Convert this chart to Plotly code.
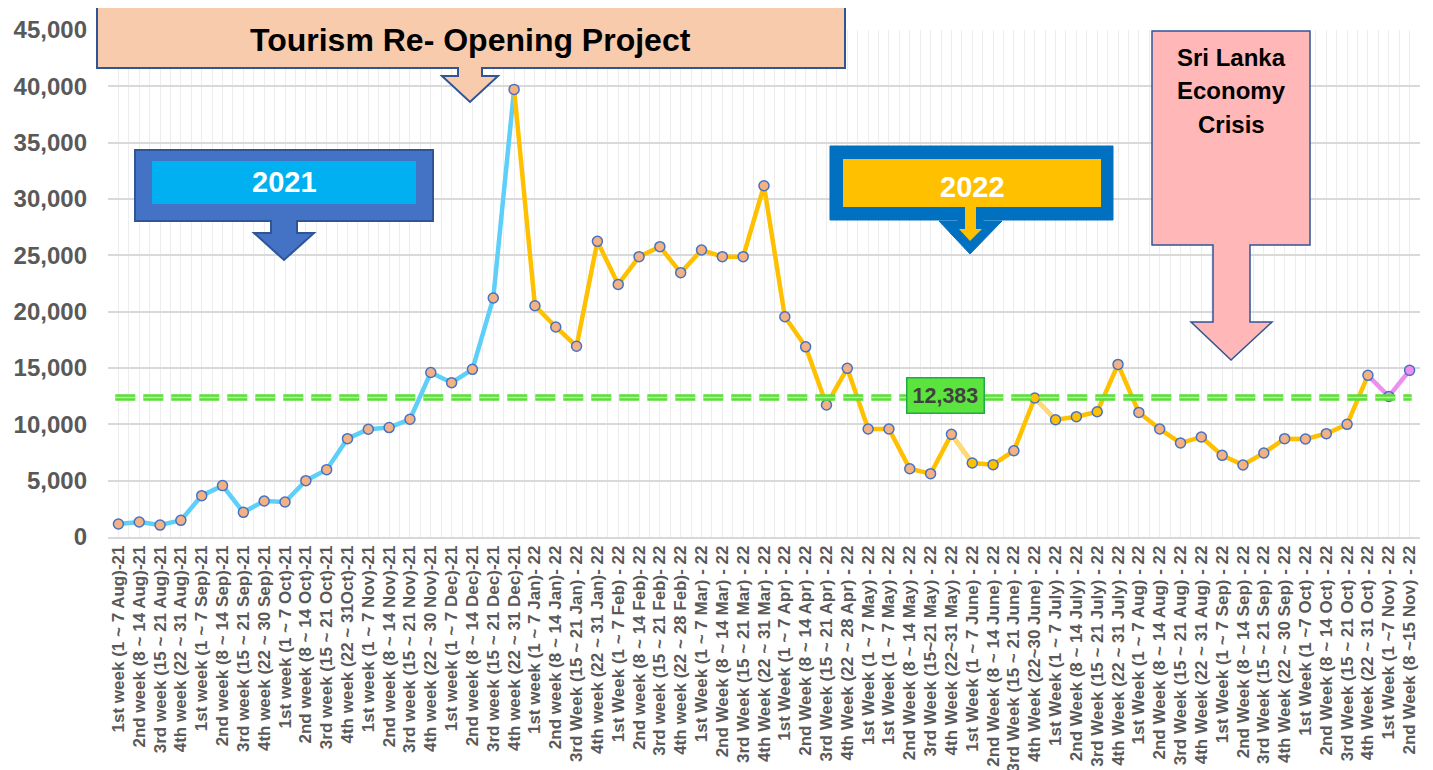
import plotly.graph_objects as go

# ---------------- data ----------------
week_labels = [
    "1st week (1 ~ 7 Aug)-21", "2nd week (8 ~ 14 Aug)-21", "3rd week (15 ~ 21 Aug)-21",
    "4th week (22 ~ 31 Aug)-21", "1st week (1 ~ 7 Sep)-21", "2nd week (8 ~ 14 Sep)-21",
    "3rd week (15 ~ 21 Sep)-21", "4th week (22 ~ 30 Sep)-21", "1st week (1 ~ 7 Oct)-21",
    "2nd week (8 ~ 14 Oct)-21", "3rd week (15 ~ 21 Oct)-21", "4th week (22 ~ 31Oct)-21",
    "1st week (1 ~ 7 Nov)-21", "2nd week (8 ~ 14 Nov)-21", "3rd week (15 ~ 21 Nov)-21",
    "4th week (22 ~ 30 Nov)-21", "1st week (1 ~ 7 Dec)-21", "2nd week (8 ~ 14 Dec)-21",
    "3rd week (15 ~ 21 Dec)-21", "4th week (22 ~ 31 Dec)-21",
    "1st week (1 ~ 7 Jan)- 22", "2nd week (8 ~ 14 Jan)- 22", "3rd Week (15 ~ 21 Jan) - 22",
    "4th week (22 ~ 31 Jan)- 22", "1st Week (1 ~ 7 Feb) - 22", "2nd week (8 ~ 14 Feb)- 22",
    "3rd week (15 ~ 21 Feb)- 22", "4th week (22 ~ 28 Feb)- 22", "1st Week (1 ~ 7 Mar) - 22",
    "2nd Week (8 ~ 14 Mar) - 22", "3rd Week (15 ~ 21 Mar) - 22", "4th Week (22 ~ 31 Mar) - 22",
    "1st Week (1 ~ 7 Apr) - 22", "2nd Week (8 ~ 14 Apr) - 22", "3rd Week (15 ~ 21 Apr) - 22",
    "4th Week (22 ~ 28 Apr) - 22", "1st Week (1 ~ 7 May) - 22", "1st Week (1 ~ 7 May) - 22",
    "2nd Week (8 ~ 14 May) - 22", "3rd Week (15~21 May) - 22", "4th Week (22~31 May) - 22",
    "1st Week (1 ~ 7 June) - 22", "2nd Week (8 ~ 14 June) - 22", "3rd Week (15 ~ 21 June) - 22",
    "4th Week (22~30 June) - 22", "1st Week (1 ~ 7 July) - 22", "2nd Week (8 ~ 14 July) - 22",
    "3rd Week (15 ~ 21 July) - 22", "4th Week (22 ~ 31 July) - 22", "1st Week (1 ~ 7 Aug) - 22",
    "2nd Week (8 ~ 14 Aug) - 22", "3rd Week (15 ~ 21 Aug) - 22", "4th Week (22 ~ 31 Aug) - 22",
    "1st Week (1 ~ 7 Sep) - 22", "2nd Week (8 ~ 14 Sep) - 22", "3rd Week (15 ~ 21 Sep) - 22",
    "4th Week (22 ~ 30 Sep) - 22", "1st Week (1 ~7 Oct) - 22", "2nd Week (8 ~ 14 Oct) - 22",
    "3rd Week (15 ~ 21 Oct) - 22", "4th Week (22 ~ 31 Oct) - 22", "1st Week (1 ~7 Nov) - 22",
    "2nd Week (8 ~15 Nov) - 22",
]

arrivals = [
    1150, 1330, 1060, 1480, 3670, 4560, 2190, 3200, 3110, 5000,
    5980, 8730, 9560, 9710, 10450, 14600, 13700, 14880, 21210, 39730,
    20530, 18640, 16930, 26240, 22420, 24880, 25770, 23460, 25470, 24880,
    24880, 31180, 19550, 16880, 11720, 14970, 9590, 9590, 6060, 5620,
    9110, 6570, 6420, 7660, 12340, 10410, 10680, 11120, 15320, 11060,
    9590, 8340, 8880, 7250, 6390, 7460, 8730, 8700, 9170, 10000,
    14350, 12480, 14790,
]

average_arrivals = 12383

# index groups (0-based) for the three line phases
idx_2021 = list(range(0, 20))
idx_2022 = list(range(19, 61))
idx_nov = list(range(60, 63))
pale_segments = [(40, 41), (44, 45)]
gold_marker_idx = {41, 42, 44, 45, 46, 47}
violet_marker_idx = {61, 62}

# ---------------- styling ----------------
BLUE_LINE = "#5ECFF9"
GOLD = "#FFC000"
PALE_GOLD = "#FFD97A"
VIOLET = "#EE8FEE"
PEACH = "#F4B183"
MARKER_EDGE = "#4472C4"
FONT = "Liberation Sans, Arial, sans-serif"

x_all = list(range(len(arrivals)))

fig = go.Figure()


def add_line(idxs, color):
    fig.add_trace(go.Scatter(
        x=[x_all[i] for i in idxs], y=[arrivals[i] for i in idxs],
        mode="lines", line=dict(color=color, width=4.5),
        hoverinfo="skip", showlegend=False))


add_line(idx_2021, BLUE_LINE)
add_line(idx_2022, GOLD)
for a, b in pale_segments:
    add_line([a, b], PALE_GOLD)
add_line(idx_nov, VIOLET)

marker_colors = []
for i in x_all:
    if i in gold_marker_idx:
        marker_colors.append(GOLD)
    elif i in violet_marker_idx:
        marker_colors.append(VIOLET)
    else:
        marker_colors.append(PEACH)

fig.add_trace(go.Scatter(
    x=x_all, y=arrivals, mode="markers",
    marker=dict(size=10, color=marker_colors, line=dict(color=MARKER_EDGE, width=1.5)),
    showlegend=False, hovertext=week_labels))

# average dashed line (bright green dash with pale centre)
fig.add_trace(go.Scatter(
    x=[x_all[0] - 0.15, x_all[-1] + 0.1], y=[average_arrivals, average_arrivals],
    mode="lines", line=dict(color="#58E034", width=6.5, dash="20px,8px"),
    hoverinfo="skip", showlegend=False))
fig.add_trace(go.Scatter(
    x=[x_all[0] - 0.15, x_all[-1] + 0.1], y=[average_arrivals, average_arrivals],
    mode="lines", line=dict(color="#BDF2A8", width=1.5, dash="20px,8px"),
    hoverinfo="skip", showlegend=False))

# ---------------- layout helpers (screen pixel -> paper) ----------------
PAGE_OFF = 8                      # default body margin of the html page
SCREEN_W, SCREEN_H = 1433, 770
W, H = SCREEN_W - PAGE_OFF, SCREEN_H - PAGE_OFF
L, R, T, B = 108, 1420, 30, 537   # plot area in screen pixels


def px(x):
    return (x - L) / (R - L)


def py(y):
    return (B - y) / (B - T)


def callout_path(x0, y0, x1, y1, sx0, sx1, sy, hx0, hx1, tx, ty):
    pts = [(x0, y0), (x1, y0), (x1, y1), (sx1, y1), (sx1, sy), (hx1, sy),
           (tx, ty), (hx0, sy), (sx0, sy), (sx0, y1), (x0, y1)]
    s = "M " + " L ".join(f"{px(a):.5f},{py(b):.5f}" for a, b in pts) + " Z"
    return s


shapes = []
# Tourism Re-Opening Project callout
shapes.append(dict(type="path", xref="paper", yref="paper", layer="above",
                   path=callout_path(97, 5, 845, 68, 458, 482, 76, 442, 498, 470, 102),
                   fillcolor="#F8CBAD", line=dict(color="#2F5597", width=2)))
# 2021 callout
shapes.append(dict(type="path", xref="paper", yref="paper", layer="above",
                   path=callout_path(135, 150, 433, 221, 271, 297, 233, 254, 314, 284, 260),
                   fillcolor="#4472C4", line=dict(color="#2F5597", width=2)))
shapes.append(dict(type="rect", xref="paper", yref="paper", layer="above",
                   x0=px(152), x1=px(416), y0=py(204), y1=py(161),
                   fillcolor="#00B0F0", line=dict(width=0)))
# 2022 callout (blue frame + gold inner)
shapes.append(dict(type="path", xref="paper", yref="paper", layer="above",
                   path=callout_path(830, 146, 1113, 220, 958, 983, 221, 939, 1002, 970, 254),
                   fillcolor="#0070C0", line=dict(color="#0070C0", width=1)))
shapes.append(dict(type="path", xref="paper", yref="paper", layer="above",
                   path=callout_path(843, 159, 1101, 207, 965, 976, 229, 959, 982, 970, 241),
                   fillcolor=GOLD, line=dict(width=0)))
# Sri Lanka Economy Crisis callout
shapes.append(dict(type="path", xref="paper", yref="paper", layer="above",
                   path=callout_path(1152, 31, 1310, 245, 1213, 1250, 322, 1191, 1272, 1231, 360),
                   fillcolor="#FFB7B7", line=dict(color="#2F5597", width=1.5)))

annotations = []


def text_at(x, y, text, size, color):
    annotations.append(dict(xref="paper", yref="paper", x=px(x), y=py(y),
                            xanchor="center", yanchor="middle", showarrow=False,
                            text=text, font=dict(family=FONT, size=size, color=color,
                                                 weight="bold")))


text_at(470, 40, "Tourism Re- Opening Project", 32, "#000000")
text_at(284, 182, "2021", 29, "#FFFFFF")
text_at(972, 187, "2022", 29, "#FFFFFF")
text_at(1231, 57, "Sri Lanka", 24, "#000000")
text_at(1231, 91, "Economy", 24, "#000000")
text_at(1231, 125, "Crisis", 24, "#000000")

annotations.append(dict(xref="x", yref="y", x=39.7, y=average_arrivals, yshift=2,
                        xanchor="center", yanchor="middle", showarrow=False,
                        text=f"{average_arrivals:,}",
                        font=dict(family=FONT, size=21.5, color="#404040", weight="bold"),
                        bgcolor="#5BE43D", bordercolor="#22A94A", borderwidth=1.5,
                        borderpad=5))

fig.update_layout(
    width=W, height=H,
    margin=dict(l=L - PAGE_OFF, r=SCREEN_W - R, t=T - PAGE_OFF, b=SCREEN_H - B,
                autoexpand=False),
    paper_bgcolor="white", plot_bgcolor="white",
    showlegend=False,
    shapes=shapes, annotations=annotations,
    xaxis=dict(
        range=[-0.5, len(arrivals) - 0.5],
        tickmode="array", tickvals=x_all, ticktext=week_labels,
        tickangle=-90, automargin=False,
        tickfont=dict(family=FONT, size=17, color="#595959", weight="bold"),
        showgrid=True, gridcolor="#EDEDED", gridwidth=1,
        minor=dict(tickmode="array", tickvals=[i + 0.5 for i in range(-1, len(arrivals))],
                   showgrid=True, gridcolor="#EDEDED", gridwidth=1),
        showline=True, linecolor="#D9D9D9", linewidth=1.5,
        zeroline=False, fixedrange=True,
    ),
    yaxis=dict(
        range=[0, 45000], dtick=5000, tickformat=",", automargin=False,
        tickfont=dict(family=FONT, size=24, color="#595959", weight="bold"),
        showgrid=True, gridcolor="#D9D9D9", gridwidth=1.5,
        zeroline=False, ticklabelstandoff=20, fixedrange=True,
    ),
)

fig.write_html("out.html")
